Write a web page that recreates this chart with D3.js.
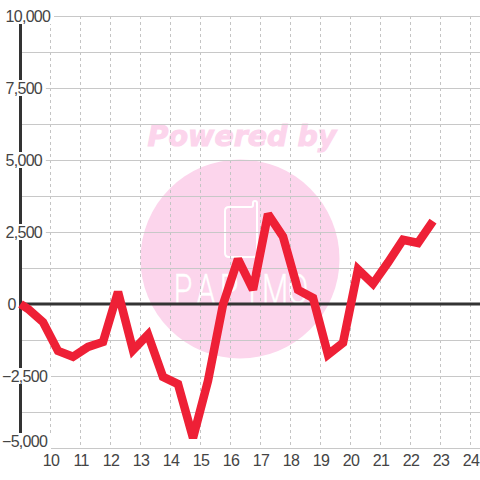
<!DOCTYPE html>
<html><head><meta charset="utf-8">
<script src="https://cdn.jsdelivr.net/npm/d3@7/dist/d3.min.js"></script>
<style>html,body{margin:0;padding:0;background:#fff}svg{display:block}text{font-family:"Liberation Sans",Arial,sans-serif}</style>
</head><body><svg id="c" width="480" height="480"></svg>
<script>
const hours=[9,9.25,9.75,10.25,10.75,11.25,11.75,12.25,12.75,13.25,13.75,14.25,14.75,15.25,15.75,16.25,16.75,17.25,17.75,18.25,18.75,19.25,19.75,20.25,20.75,21.25,21.75,22.25,22.75];
const values=[0,-170,-630,-1630,-1830,-1490,-1320,420,-1600,-1060,-2530,-2780,-4650,-2670,-20,1560,500,3120,2340,490,210,-1760,-1350,1200,700,1440,2230,2120,2880];
const yTicks=[10000,7500,5000,2500,0,-2500,-5000];
const yGrid=[8750,6250,3750,1250,-1250,-3750];
const xTicks=[10,11,12,13,14,15,16,17,18,19,20,21,22,23,24];
const brandLetters=["P","A","P","I","M","O"];
const svg=d3.select("#c");
const x=d3.scaleLinear().domain([9,25]).range([20.5,500.5]);
const y=d3.scaleLinear().domain([-5000,10000]).range([448,16]);
const brandX=d3.scalePoint().domain(d3.range(brandLetters.length)).range([183,298]);
const fmt=d3.format(",");
const pink="#fcd5ec";
// watermark
const wm=svg.append("g");
wm.append("text").attr("x",242).attr("y",146).attr("text-anchor","middle").style("font-family","'DejaVu Sans'").attr("font-size",28.5).attr("font-weight","bold").attr("font-style","italic").attr("fill",pink).attr("stroke",pink).attr("stroke-width",1).text("Powered by");
wm.append("circle").attr("cx",240).attr("cy",259).attr("r",99.5).attr("fill",pink);
wm.append("path").attr("d","M229 207H251Q253 207 253 205V203Q253 201 255 201Q257 201 257 203V253Q257 257 253 257H229Q225 257 225 253V211Q225 207 229 207Z").attr("fill","none").attr("stroke","#fff").attr("stroke-width",2);
wm.append("g").selectAll("text").data(brandLetters).join("text").attr("transform",(d,i)=>`translate(${brandX(i)},304) scale(0.72,1)`).attr("text-anchor","middle").style("font-family","Roboto").attr("font-weight",300).attr("font-size",42).attr("fill","#fff").attr("stroke","#fff").attr("stroke-width",0.4).text(d=>d);
// grid
svg.append("g").selectAll("line").data(xTicks).join("line").attr("x1",d=>x(d)).attr("x2",d=>x(d)).attr("y1",16).attr("y2",448).attr("stroke","#c4c4c4").attr("stroke-dasharray","3,3");
svg.append("g").selectAll("line").data(yTicks.filter(d=>d!==0).concat(yGrid)).join("line").attr("x1",20).attr("x2",480).attr("y1",d=>Math.round(y(d))+.5).attr("y2",d=>Math.round(y(d))+.5).attr("stroke","#c8c8c8").attr("stroke-width",1.2);
// axes
svg.append("line").attr("x1",20.5).attr("x2",20.5).attr("y1",16).attr("y2",448).attr("stroke","#333").attr("stroke-width",3);
svg.append("line").attr("x1",20).attr("x2",480).attr("y1",y(0)).attr("y2",y(0)).attr("stroke","#333").attr("stroke-width",3);
// labels with white plates
const lab=svg.append("g").selectAll("g").data(yTicks).join("g");
lab.each(function(d){
 const g=d3.select(this);
 const cy=d===-5000?y(d)-7:y(d);
 const t=g.append("text").attr("x",d<0?2:d===0?7.5:5.5).attr("y",cy+5.6).attr("font-size",16).attr("letter-spacing",-0.7).attr("fill","#444").text(fmt(d));
 if(d!==0){const b=t.node().getBBox();g.insert("rect","text").attr("x",b.x).attr("y",cy-8).attr("width",b.width+3).attr("height",d===-5000?17:16).attr("fill","#fff");}
});
svg.append("g").selectAll("text").data(xTicks).join("text").attr("x",d=>x(d)+0.5).attr("y",466).attr("text-anchor","middle").attr("font-size",16).attr("letter-spacing",-0.7).attr("fill","#444").text(d=>d);
// line
const line=d3.line().x((d,i)=>x(hours[i])).y(d=>y(d));
svg.append("path").datum(values).attr("d",line).attr("fill","none").attr("stroke","#ee2036").attr("stroke-width",8.5).attr("stroke-linejoin","miter").attr("stroke-miterlimit",2.2);
</script></body></html>
